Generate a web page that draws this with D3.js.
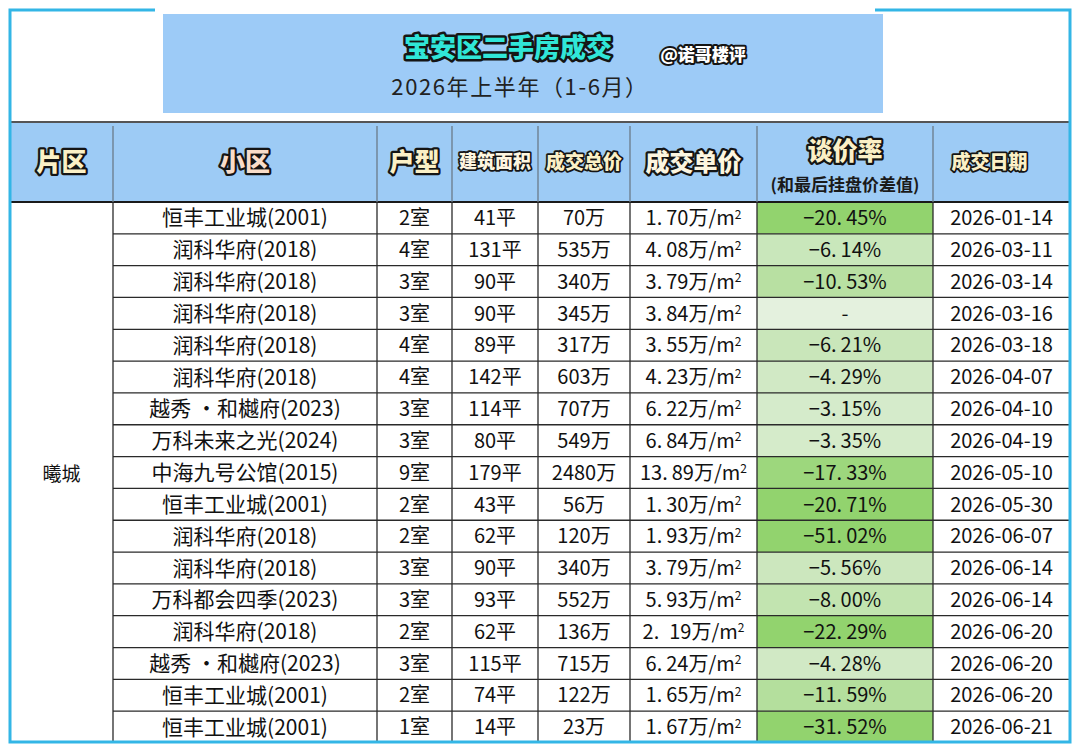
<!DOCTYPE html>
<html>
<head>
<meta charset="utf-8">
<script src="https://cdn.jsdelivr.net/npm/d3@7/dist/d3.min.js"></script>
<style>
  html, body { margin: 0; padding: 0; background: #ffffff; }
  svg { display: block; }
  text { font-family: "Noto Sans CJK SC", "Noto Sans", sans-serif; }
</style>
</head>
<body>
<svg id="chart" width="1080" height="752"></svg>
<script>
// ---------------- data ----------------
const title = "宝安区二手房成交";
const author = "@诺哥楼评";
const subtitle = "2026年上半年（1-6月）";
const district = "曦城";
const headers = ["片区", "小区", "户型", "建筑面积", "成交总价", "成交单价", "谈价率", "成交日期"];
const rateNote = "(和最后挂盘价差值)";
const communities = [
  "恒丰工业城(2001)", "润科华府(2018)", "润科华府(2018)", "润科华府(2018)", "润科华府(2018)",
  "润科华府(2018)", "越秀  ·和樾府(2023)", "万科未来之光(2024)", "中海九号公馆(2015)", "恒丰工业城(2001)",
  "润科华府(2018)", "润科华府(2018)", "万科都会四季(2023)", "润科华府(2018)", "越秀  ·和樾府(2023)",
  "恒丰工业城(2001)", "恒丰工业城(2001)"
];
const rooms = [2, 4, 3, 3, 4, 4, 3, 3, 9, 2, 2, 3, 3, 2, 3, 2, 1];
const areas = [41, 131, 90, 90, 89, 142, 114, 80, 179, 43, 62, 90, 93, 62, 115, 74, 14];
const totals = [70, 535, 340, 345, 317, 603, 707, 549, 2480, 56, 120, 340, 552, 136, 715, 122, 23];
const unitPrices = ["1.70", "4.08", "3.79", "3.84", "3.55", "4.23", "6.22", "6.84", "13.89", "1.30",
  "1.93", "3.79", "5.93", "2. 19", "6.24", "1.65", "1.67"];
const rates = [-20.45, -6.14, -10.53, null, -6.21, -4.29, -3.15, -3.35, -17.33, -20.71,
  -51.02, -5.56, -8.00, -22.29, -4.28, -11.59, -31.52];
const dates = ["2026-01-14", "2026-03-11", "2026-03-14", "2026-03-16", "2026-03-18", "2026-04-07",
  "2026-04-10", "2026-04-19", "2026-05-10", "2026-05-30", "2026-06-07", "2026-06-14", "2026-06-14",
  "2026-06-20", "2026-06-20", "2026-06-20", "2026-06-21"];

// ---------------- layout ----------------
const frame = { x0: 10, x1: 1070, y0: 10, y1: 742 };
const colEdges = [10, 113, 377, 452, 538, 630, 757, 933, 1070];
const headerTop = 122, headerBottom = 202;
const n = communities.length;

const svg = d3.select("#chart");

const y = d3.scaleBand().domain(d3.range(n)).range([headerBottom, frame.y1 + 1]);
const colMid = i => (colEdges[i] + colEdges[i + 1]) / 2;

const rateColor = d3.scaleLinear().domain([3, 20]).range(["#d6ebcc", "#92d36e"]).clamp(true);

// title box
svg.append("rect").attr("x", 163).attr("y", 14).attr("width", 720).attr("height", 99)
  .attr("fill", "#9dcbf7");

function outlined(sel, fill, sw) {
  return sel.attr("fill", fill).attr("stroke", "#151515").attr("stroke-width", sw)
    .attr("stroke-linejoin", "round").attr("paint-order", "stroke").attr("font-weight", 900);
}

outlined(svg.append("text").attr("x", 508).attr("y", 48).attr("dy", "0.36em")
  .attr("text-anchor", "middle").attr("font-size", 26).text(title), "#30e6d8", 5);
outlined(svg.append("text").attr("x", 703).attr("y", 55).attr("dy", "0.36em")
  .attr("text-anchor", "middle").attr("font-size", 17).text(author), "#ffffff", 4);
svg.append("text").attr("x", 520).attr("y", 87).attr("dy", "0.36em")
  .attr("text-anchor", "middle").attr("font-size", 22).attr("letter-spacing", 1.6)
  .attr("fill", "#222").text(subtitle);

// header row
svg.append("rect").attr("x", frame.x0).attr("y", headerTop).attr("width", frame.x1 - frame.x0)
  .attr("height", headerBottom - headerTop).attr("fill", "#9dcbf5");

// rate cells
const bodyG = svg.append("g");
bodyG.selectAll("rect.rate").data(rates).join("rect").attr("class", "rate")
  .attr("x", colEdges[6]).attr("y", (d, i) => y(i))
  .attr("width", colEdges[7] - colEdges[6]).attr("height", y.bandwidth())
  .attr("fill", d => d === null ? "#e4f1de" : rateColor(Math.abs(d)));

// grid lines: horizontal (not across merged 片区 column)
bodyG.selectAll("line.h").data(d3.range(1, n)).join("line").attr("class", "h")
  .attr("x1", colEdges[1]).attr("x2", colEdges[8])
  .attr("y1", i => y(i)).attr("y2", i => y(i))
  .attr("stroke", "#2a2a2a").attr("stroke-width", 1.3);
// header borders
svg.append("line").attr("x1", frame.x0).attr("x2", frame.x1).attr("y1", headerTop).attr("y2", headerTop)
  .attr("stroke", "#555").attr("stroke-width", 2);
svg.append("line").attr("x1", frame.x0).attr("x2", frame.x1).attr("y1", headerBottom).attr("y2", headerBottom)
  .attr("stroke", "#1a1a1a").attr("stroke-width", 1.8);
// verticals
svg.selectAll("line.vh").data(colEdges.slice(1, -1)).join("line").attr("class", "vh")
  .attr("x1", d => d).attr("x2", d => d).attr("y1", headerTop + 4).attr("y2", headerBottom)
  .attr("stroke", "#6b7a88").attr("stroke-width", 1.3);
svg.selectAll("line.vb").data(colEdges.slice(1, -1)).join("line").attr("class", "vb")
  .attr("x1", d => d).attr("x2", d => d).attr("y1", headerBottom).attr("y2", frame.y1)
  .attr("stroke", "#2a2a2a").attr("stroke-width", 1.3);

// header texts
const hdrFill = ["#fbf0c6", "#f9ddc9", "#fbf0c6", "#fdf6e0", "#fbf0c6", "#fdf6e0", "#fbf0c6", "#fbf0c6"];
const hdrSize = [25, 25, 25, 18, 19, 24, 25, 19];
const hdrShift = [0, 0, 0, 0, 0, 0, 0, -12];
headers.forEach((h, i) => {
  const cy = i === 6 ? 151 : 162;
  outlined(svg.append("text").attr("x", colMid(i) + hdrShift[i]).attr("y", cy).attr("dy", "0.36em")
    .attr("text-anchor", "middle").attr("font-size", hdrSize[i]).text(h), hdrFill[i], i === 3 || i === 4 || i === 7 ? 3.5 : 4.5);
});
svg.append("text").attr("x", colMid(6)).attr("y", 185).attr("dy", "0.36em")
  .attr("text-anchor", "middle").attr("font-size", 17).attr("font-weight", 700)
  .attr("fill", "#1a1a1a").text(rateNote);

// body text
const fs = 20;
const txt = (g, x, yy, size) => g.append("text").attr("x", x).attr("y", yy).attr("dy", "0.36em")
  .attr("text-anchor", "middle").attr("font-size", size || fs).attr("fill", "#111");

svg.append("text").attr("x", colMid(0)).attr("y", (headerBottom + frame.y1) / 2 + 2).attr("dy", "0.36em")
  .attr("text-anchor", "middle").attr("font-size", 19).attr("fill", "#111").text(district);

const rowMid = i => y(i) + y.bandwidth() / 2;
const tg = svg.append("g");
communities.forEach((c, i) => {
  const cy = rowMid(i);
  txt(tg, colMid(1), cy, 21).text(c);
  txt(tg, colMid(2), cy).text(rooms[i] + "室");
  txt(tg, colMid(3), cy).text(areas[i] + "平");
  txt(tg, colMid(4), cy).text(totals[i] + "万");
  // unit price with wide decimal point
  const up = unitPrices[i].split(".");
  const t = txt(tg, colMid(5), cy);
  t.append("tspan").text(up[0] + ".");
  t.append("tspan").attr("dx", up[1].startsWith(" ") ? 10 : 4).text(up[1].trim() + "万/m");
  t.append("tspan").attr("font-size", 12).attr("dy", "-0.55em").text("2");
  // rate
  const r = txt(tg, colMid(6), cy);
  if (rates[i] === null) {
    r.text("-");
  } else {
    const s = d3.format(".2f")(Math.abs(rates[i])).split(".");
    r.append("tspan").text("\u2212" + s[0] + ".");
    r.append("tspan").attr("dx", 4).text(s[1] + "%");
  }
  txt(tg, colMid(7), cy).text(dates[i]);
});

// outer cyan frame (gap at top behind the title box)
const fp = d3.path();
fp.moveTo(155, frame.y0);
fp.lineTo(frame.x0, frame.y0);
fp.lineTo(frame.x0, frame.y1);
fp.lineTo(frame.x1, frame.y1);
fp.lineTo(frame.x1, frame.y0);
fp.lineTo(875, frame.y0);
svg.append("path").attr("d", fp.toString()).attr("fill", "none")
  .attr("stroke", "#33b6e6").attr("stroke-width", 3);
</script>
</body>
</html>
